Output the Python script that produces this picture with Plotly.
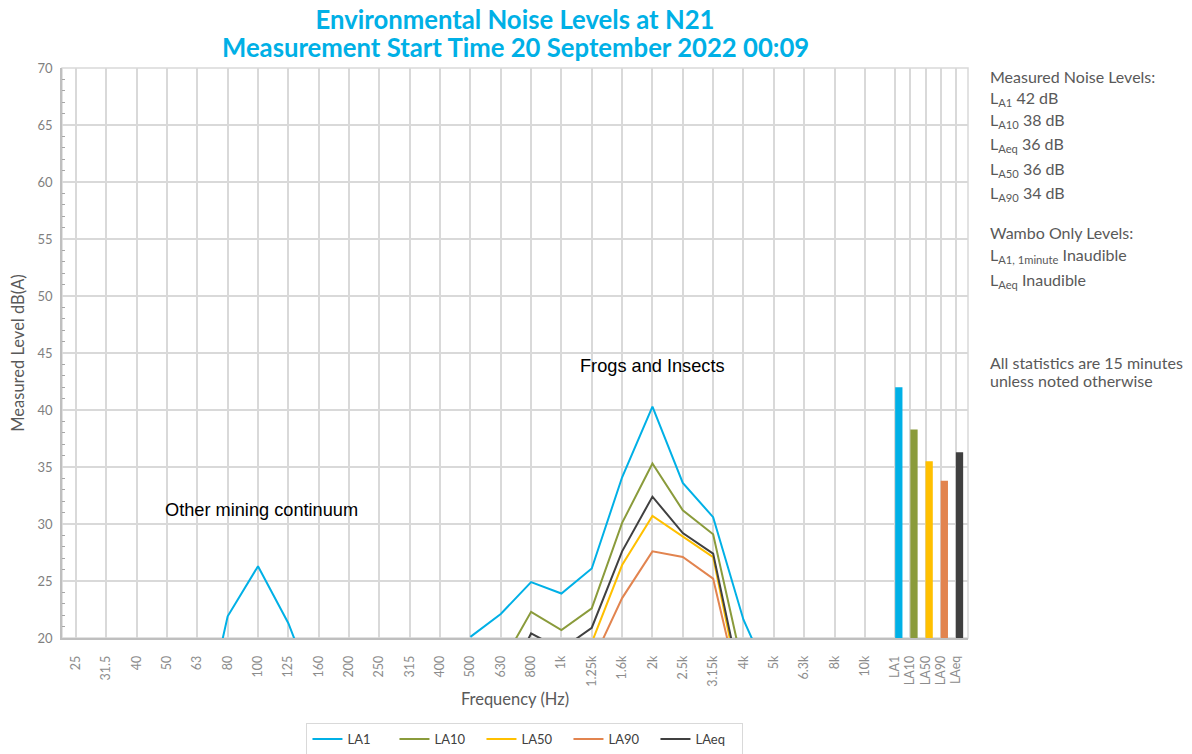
import plotly.graph_objects as go

# ---------------- data ----------------
freq_labels = ["25", "31.5", "40", "50", "63", "80", "100", "125", "160", "200",
               "250", "315", "400", "500", "630", "800", "1k", "1.25k", "1.6k",
               "2k", "2.5k", "3.15k", "4k", "5k", "6.3k", "8k", "10k"]
N = None
la1 = [N, N, N, N, 10.0, 21.9, 26.3, 21.3, 14.4, N, N, N, N, 20.1, 22.1, 24.9,
       23.9, 26.1, 34.1, 40.3, 33.6, 30.6, 21.6, 15.7, N, N, N]
la10 = [N] * 14 + [17.6, 22.3, 20.7, 22.6, 30.1, 35.3, 31.2, 29.1, 17.2] + [N] * 4
la50 = [N] * 17 + [19.6, 26.4, 30.7, 28.9, 27.1, 14.1] + [N] * 4
la90 = [N] * 17 + [17.8, 23.5, 27.6, 27.1, 25.2, 13.9] + [N] * 4
laeq = [N] * 14 + [15.0, 20.4, 19.0, 20.9, 27.6, 32.4, 29.2, 27.4, 14.9] + [N] * 4

series_names = ["LA1", "LA10", "LA50", "LA90", "LAeq"]
series_values = [la1, la10, la50, la90, laeq]
series_colors = ["#00B0E6", "#8A9B3B", "#FFC000", "#E2844F", "#404040"]

bar_labels = ["LA1", "LA10", "LA50", "LA90", "LAeq"]
bar_values = [42.0, 38.3, 35.5, 33.8, 36.3]

title_line1 = "Environmental Noise Levels at N21"
title_line2 = "Measurement Start Time 20 September 2022 00:09"

# ---------------- layout positions ----------------
W, H = 1192, 754
top_px, bot_px, left_px, right_px = 68, 638, 62, 968   # plot area in window pixels

freq_x = list(range(len(freq_labels)))
bar_x = [len(freq_labels) + 0.5 * i for i in range(len(bar_labels))]

fig = go.Figure()
for name, vals, col in zip(series_names, series_values, series_colors):
    fig.add_trace(go.Scatter(x=freq_x, y=vals, mode="lines", name=name,
                             line=dict(color=col, width=2), connectgaps=False))

fig.add_trace(go.Bar(x=bar_x, y=bar_values, marker=dict(color=series_colors, line=dict(width=0)),
                     width=0.24, offset=0, showlegend=False))

grid = "#D9D9D9"
FONT = "Lato, Carlito, sans-serif"
tick_font = dict(family=FONT, size=12.5, color="#8C8C8C")

fig.update_xaxes(
    range=[-0.46, 29.40], automargin=False,
    tickmode="array", tickvals=freq_x + bar_x, ticktext=freq_labels + bar_labels,
    tickangle=-90, tickfont=tick_font, ticks="", ticklabelstandoff=11,
    showgrid=True, gridcolor=grid, gridwidth=1.5,
    showline=True, linecolor="#BFBFBF", linewidth=1.5,
    zeroline=False,
    title=dict(text="Frequency (Hz)", font=dict(family=FONT, size=16.5, color="#595959"),
               standoff=8),
)
fig.update_yaxes(
    range=[20, 70], dtick=5, tick0=20, automargin=False,
    tickfont=dict(family=FONT, size=13, color="#7F7F7F"),
    ticks="", ticklabelstandoff=5,
    showgrid=True, gridcolor=grid, gridwidth=1.5,
    showline=True, linecolor="#BFBFBF", linewidth=1.5,
    zeroline=False,
    minor=dict(dtick=1, ticks="inside", ticklen=3, tickcolor="#A6A6A6", showgrid=False),
    title=dict(text="Measured Level dB(A)", font=dict(family=FONT, size=16.5, color="#595959"),
               standoff=9),
)

# plot border
fig.add_shape(type="rect", xref="paper", yref="paper", x0=0, x1=1, y0=0, y1=1,
              line=dict(color=grid, width=1.5), layer="below")

# in-chart annotations
ann_font = dict(family="Liberation Sans, Arial, sans-serif", size=18.2, color="#000000")
fig.add_annotation(x=19, y=43.9, text="Frogs and Insects", showarrow=False, font=ann_font)
fig.add_annotation(x=6.1, y=31.2, text="Other mining continuum", showarrow=False, font=ann_font)

# second title line
fig.add_annotation(xref="paper", yref="paper", x=0.5, xanchor="center",
                   y=(bot_px - 47) / (bot_px - top_px), yanchor="middle",
                   text="<b>" + title_line2 + "</b>", showarrow=False,
                   font=dict(family=FONT, size=25.7, color="#00B0E6"))

# right-hand text panel
panel_font = dict(family=FONT, size=16, color="#595959")
panel_lines = [
    ("Measured Noise Levels:", 76),
    ("L<sub>A1</sub> 42 dB", 99),
    ("L<sub>A10</sub> 38 dB", 121),
    ("L<sub>Aeq</sub> 36 dB", 144),
    ("L<sub>A50</sub> 36 dB", 169),
    ("L<sub>A90</sub> 34 dB", 193),
    ("Wambo Only Levels:", 232),
    ("L<sub>A1, 1minute</sub> Inaudible", 255),
    ("L<sub>Aeq</sub> Inaudible", 280),
    ("All statistics are 15 minutes", 362),
    ("unless noted otherwise", 381),
]
for txt, ypx in panel_lines:
    fig.add_annotation(xref="paper", yref="paper",
                       x=(988 - left_px) / (right_px - left_px),
                       y=(bot_px - ypx) / (bot_px - top_px),
                       xanchor="left", yanchor="middle", text=txt, showarrow=False,
                       font=panel_font, align="left")

fig.update_layout(
    width=W, height=H,
    margin=dict(l=left_px, r=W - right_px, t=top_px, b=H - bot_px, autoexpand=False),
    paper_bgcolor="white", plot_bgcolor="white",
    title=dict(text="<b>" + title_line1 + "</b>",
               x=0.5, xref="paper", xanchor="center",
               y=1 - 20 / H, yref="container", yanchor="middle",
               font=dict(family=FONT, size=25.7, color="#00B0E6")),
    legend=dict(orientation="h", x=0.511, xanchor="center",
                y=-(723 - bot_px) / (bot_px - top_px), yanchor="top",
                bordercolor="#D9D9D9", borderwidth=1,
                font=dict(family=FONT, size=13, color="#404040"),
                entrywidth=42, itemwidth=30),
    showlegend=True,
)

fig.write_html("out.html", config={"displayModeBar": False},
               post_script="document.body.style.margin='0';")
